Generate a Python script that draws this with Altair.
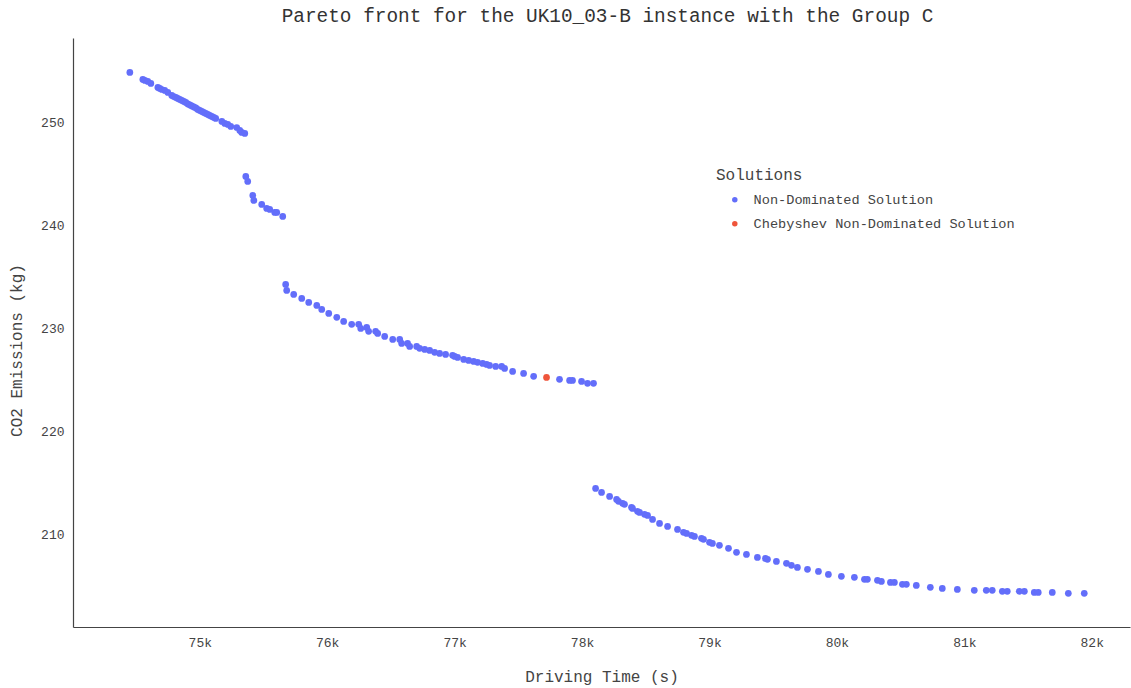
import altair as alt
import pandas as pd

# Non-dominated solutions: driving time (s) and CO2 emissions (kg)
nd_time = [
    74451, 74553, 74569, 74592, 74616, 74671, 74686, 74702, 74725, 74749,
    74780, 74796, 74812, 74827, 74843, 74859, 74875, 74890, 74906, 74922,
    74937, 74953, 74969, 74984, 75000, 75016, 75031, 75047, 75063, 75078,
    75094, 75110, 75125, 75173, 75196, 75220, 75243, 75290, 75314, 75329,
    75353,
    75361, 75376, 75416, 75424, 75486, 75525, 75549, 75588, 75604, 75651,
    75674, 75682, 75737, 75800, 75855, 75918, 75957, 76012, 76075, 76129,
    76192, 76247, 76263, 76310, 76325, 76380, 76396, 76451, 76514, 76569,
    76584, 76631, 76647, 76702, 76725, 76765, 76804, 76843, 76882, 76929,
    76984, 77000, 77023, 77071, 77110, 77149, 77180, 77220, 77251, 77274,
    77322, 77369, 77392, 77455, 77541, 77620, 77823, 77902, 77925, 77996,
    78043, 78090,
    78106, 78153, 78216, 78271, 78286, 78318, 78333, 78388, 78396, 78435,
    78451, 78490, 78514, 78553, 78608, 78671, 78749, 78796, 78820, 78859,
    78882, 78937, 78953, 79000, 79023, 79078, 79149, 79212, 79290, 79376,
    79439, 79455, 79525, 79604, 79643, 79690, 79769, 79855, 79933, 80035,
    80137, 80216, 80239, 80318, 80349, 80420, 80451, 80514, 80545, 80623,
    80733, 80827, 80945, 81078, 81172, 81219, 81298, 81337, 81431, 81471,
    81549, 81580, 81690, 81816, 81941,
]
nd_co2 = [
    254.86, 254.18, 254.08, 253.98, 253.79, 253.40, 253.30, 253.20, 253.11, 252.91,
    252.62, 252.52, 252.43, 252.33, 252.23, 252.14, 252.04, 251.94, 251.80, 251.70,
    251.60, 251.51, 251.41, 251.26, 251.17, 251.07, 250.97, 250.87, 250.78, 250.68,
    250.58, 250.49, 250.39, 250.10, 249.90, 249.81, 249.61, 249.51, 249.22, 249.03,
    248.93,
    244.76, 244.27, 242.91, 242.43, 242.04, 241.65, 241.55, 241.26, 241.26, 240.87,
    234.27, 233.69, 233.30, 232.91, 232.52, 232.23, 231.84, 231.45, 231.07, 230.68,
    230.39, 230.39, 230.00, 230.09, 229.71, 229.71, 229.51, 229.22, 228.93, 228.93,
    228.54, 228.54, 228.25, 228.25, 228.06, 227.96, 227.86, 227.67, 227.57, 227.47,
    227.38, 227.28, 227.18, 226.99, 226.89, 226.79, 226.70, 226.60, 226.50, 226.40,
    226.31, 226.31, 226.11, 225.82, 225.63, 225.34, 225.05, 224.95, 224.95, 224.85,
    224.66, 224.66,
    214.46, 214.07, 213.68, 213.39, 213.20, 213.01, 212.91, 212.62, 212.52, 212.23,
    212.13, 211.94, 211.84, 211.45, 211.06, 210.77, 210.48, 210.19, 210.09, 209.90,
    209.80, 209.61, 209.51, 209.22, 209.12, 208.93, 208.64, 208.25, 208.05, 207.76,
    207.66, 207.57, 207.37, 207.18, 206.99, 206.79, 206.60, 206.40, 206.11, 205.92,
    205.82, 205.63, 205.63, 205.53, 205.43, 205.33, 205.33, 205.14, 205.14, 205.04,
    204.85, 204.75, 204.65, 204.56, 204.56, 204.56, 204.46, 204.46, 204.46, 204.46,
    204.36, 204.36, 204.36, 204.27, 204.27,
]

# Chebyshev-selected solution
cheb_time = [77721]
cheb_co2 = [225.24]

series_names = ["Non-Dominated Solution", "Chebyshev Non-Dominated Solution"]
series_colors = ["#636efa", "#ef553b"]
x_ticks = [75000, 76000, 77000, 78000, 79000, 80000, 81000, 82000]
y_ticks = [210, 220, 230, 240, 250]

df = pd.concat([
    pd.DataFrame({"time": nd_time, "co2": nd_co2, "Solutions": series_names[0]}),
    pd.DataFrame({"time": cheb_time, "co2": cheb_co2, "Solutions": series_names[1]}),
], ignore_index=True)

FONT = "Liberation Mono"

chart = alt.Chart(df).mark_circle(size=45, opacity=1).encode(
    x=alt.X("time:Q",
            scale=alt.Scale(domain=[74005, 82300], nice=False, zero=False),
            axis=alt.Axis(title="Driving Time (s)", values=x_ticks,
                          labelExpr="datum.value / 1000 + 'k'",
                          grid=False, ticks=False, labelPadding=9,
                          titlePadding=19)),
    y=alt.Y("co2:Q",
            scale=alt.Scale(domain=[201.0, 258.2], nice=False, zero=False),
            axis=alt.Axis(title="CO2 Emissions (kg)", values=y_ticks,
                          grid=False, ticks=False, labelPadding=9,
                          titleX=-57, titleY=312, titleAngle=-90,
                          titleBaseline="middle", titleAlign="center")),
    color=alt.Color("Solutions:N",
                    scale=alt.Scale(domain=series_names, range=series_colors),
                    legend=alt.Legend(title="Solutions", orient="none",
                                      legendX=643, legendY=129,
                                      symbolType="circle", symbolSize=30,
                                      labelFontSize=13.6, titleFontSize=16,
                                      titleFontWeight="normal", labelLimit=500,
                                      rowPadding=9, titlePadding=10,
                                      labelOffset=12, symbolOffset=12)),
    order=alt.Order("Solutions:N", sort="descending"),
).properties(
    width=1057,
    height=589,
    background="white",
    title=alt.TitleParams("Pareto front for the UK10_03-B instance with the Group C",
                          fontSize=19.4, font=FONT, fontWeight="normal",
                          color="#333", offset=12, dx=6),
    autosize=alt.AutoSizeParams(type="none"),
    padding={"left": 73, "top": 38, "right": 1, "bottom": 61},
).configure_view(
    stroke=None
).configure_axis(
    labelFont=FONT, titleFont=FONT, labelFontSize=13, titleFontSize=16,
    titleFontWeight="normal", labelColor="#444", titleColor="#444",
    domainColor="#444", domainWidth=1.2,
).configure_legend(
    labelFont=FONT, titleFont=FONT, labelColor="#444", titleColor="#444",
)

chart.save("out.html", embed_options={"renderer": "svg", "actions": False})
